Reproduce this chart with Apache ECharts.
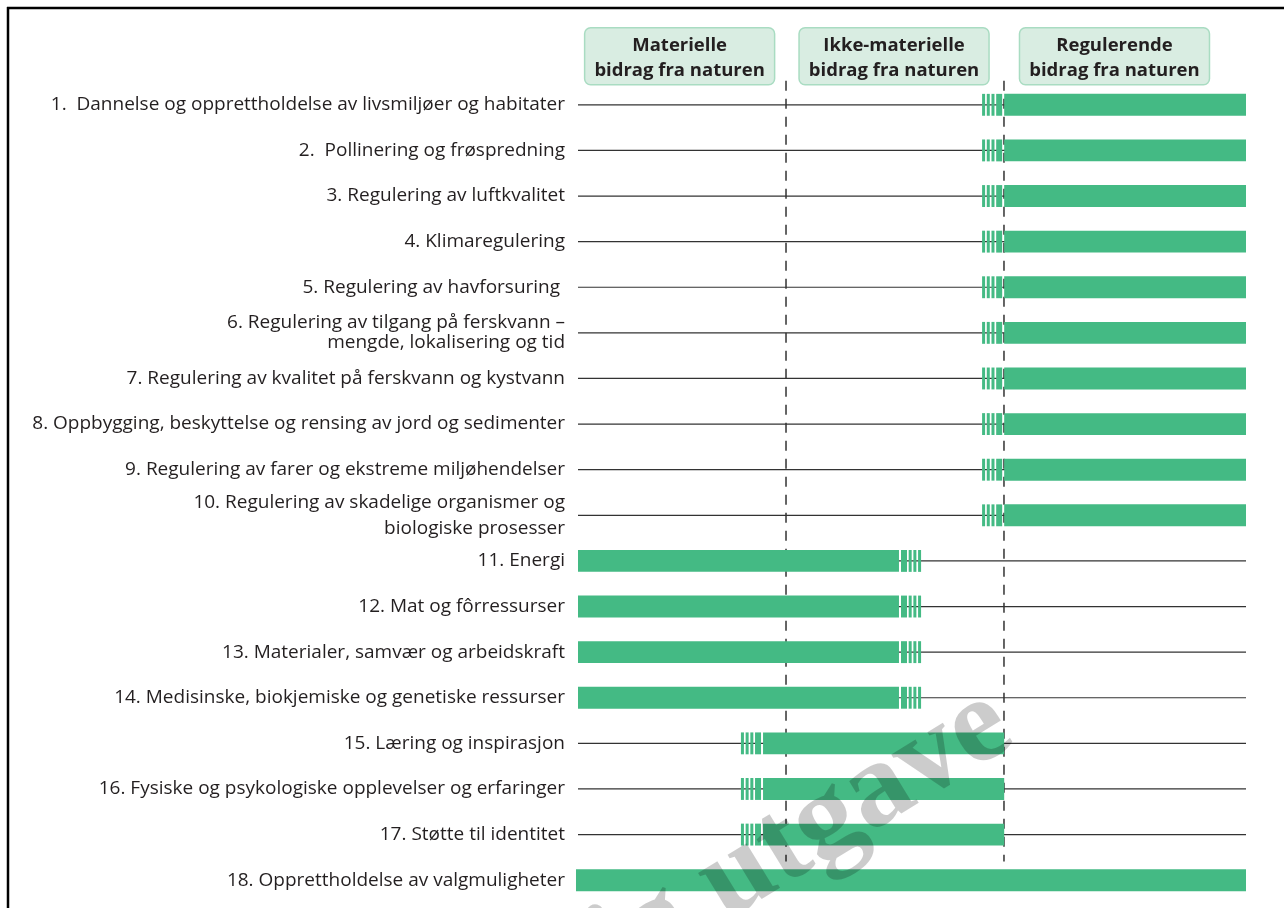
<!DOCTYPE html>
<html>
<head>
<meta charset="utf-8">
<script src="https://cdn.jsdelivr.net/npm/echarts@6/dist/echarts.min.js"></script>
<style>
  html, body { margin: 0; padding: 0; background: #fff; }
  #chart { width: 1284px; height: 908px; }
</style>
</head>
<body>
<div id="chart"></div>
<script>
  // rows, top to bottom
  const categories = [
    '1.  Dannelse og opprettholdelse av livsmiljøer og habitater',
    '2.  Pollinering og frøspredning',
    '3. Regulering av luftkvalitet',
    '4. Klimaregulering',
    '5. Regulering av havforsuring ',
    '6. Regulering av tilgang på ferskvann –\nmengde, lokalisering og tid',
    '7. Regulering av kvalitet på ferskvann og kystvann',
    '8. Oppbygging, beskyttelse og rensing av jord og sedimenter',
    '9. Regulering av farer og ekstreme miljøhendelser',
    '10. Regulering av skadelige organismer og\nbiologiske prosesser',
    '11. Energi',
    '12. Mat og fôrressurser',
    '13. Materialer, samvær og arbeidskraft',
    '14. Medisinske, biokjemiske og genetiske ressurser',
    '15. Læring og inspirasjon',
    '16. Fysiske og psykologiske opplevelser og erfaringer',
    '17. Støtte til identitet',
    '18. Opprettholdelse av valgmuligheter'
  ];
  // solid part of each bar (0-100 scale across the three groups)
  const solidStart = [63.8, 63.8, 63.8, 63.8, 63.8, 63.8, 63.8, 63.8, 63.8, 63.8,
                      0, 0, 0, 0, 27.7, 27.7, 27.7, -0.3];
  const solidEnd   = [100, 100, 100, 100, 100, 100, 100, 100, 100, 100,
                      48.05, 48.05, 48.05, 48.05, 63.8, 63.8, 63.8, 100];
  // which end fades out in stripes
  const fadeSide = ['left', 'left', 'left', 'left', 'left', 'left', 'left', 'left', 'left', 'left',
                    'right', 'right', 'right', 'right', 'left', 'left', 'left', 'none'];
  // group borders (dashed) and group headers
  const dividers = [31.14, 63.77];
  const groupNames = ['Materielle\nbidrag fra naturen', 'Ikke-materielle\nbidrag fra naturen', 'Regulerende\nbidrag fra naturen'];
  const groupCentres = [15.1, 47.2, 80.2];

  const GREEN = '#44ba84';
  const INK = '#231f20';

  const chart = echarts.init(document.getElementById('chart'));

  function renderRow(params, api) {
    const i = params.dataIndex;
    const y = api.coord([0, i])[1];
    const h = api.size([0, 1])[1] * 0.48;
    const x0 = api.coord([0, i])[0];
    const x1 = api.coord([100, i])[0];
    const s0 = api.coord([api.value(0), i])[0];
    const s1 = api.coord([api.value(1), i])[0];
    const children = [{
      type: 'line',
      shape: { x1: x0, y1: y, x2: x1, y2: y },
      style: { stroke: '#333', lineWidth: 1.2 }
    }];
    // stripes fading the bar out
    const widths = [3, 3, 3, 6];
    const gap = 1.7;
    if (fadeSide[i] === 'left') {
      let x = s0 - 2;
      for (let k = widths.length - 1; k >= 0; k--) {
        x -= widths[k];
        children.push({ type: 'rect', shape: { x: x, y: y - h / 2, width: widths[k], height: h }, style: { fill: GREEN } });
        x -= gap;
      }
    } else if (fadeSide[i] === 'right') {
      let x = s1 + 2;
      for (let k = widths.length - 1; k >= 0; k--) {
        children.push({ type: 'rect', shape: { x: x, y: y - h / 2, width: widths[k], height: h }, style: { fill: GREEN } });
        x += widths[k] + gap;
      }
    }
    children.push({
      type: 'rect',
      shape: { x: s0, y: y - h / 2, width: s1 - s0, height: h },
      style: { fill: GREEN }
    });
    return { type: 'group', children: children };
  }

  function renderDivider(params, api) {
    const x = api.coord([api.value(0), 0])[0];
    const top = api.coord([0, 0])[1] - 24;
    const bottom = api.coord([0, categories.length - 2])[1] + 27;
    return {
      type: 'line',
      shape: { x1: x, y1: top, x2: x, y2: bottom },
      style: { stroke: '#333', lineWidth: 1.5, lineDash: [10, 8] }
    };
  }

  const option = {
    backgroundColor: '#fff',
    animation: false,
    grid: { left: 578, right: 38, top: 82, bottom: 5 },
    xAxis: { type: 'value', min: 0, max: 100, show: false },
    yAxis: {
      type: 'category',
      inverse: true,
      data: categories.map((c, i) => i === 9 ? { value: c, textStyle: { lineHeight: 26 } } : c),
      axisLine: { show: false },
      axisTick: { show: false },
      splitLine: { show: false },
      axisLabel: {
        margin: 13,
        color: INK,
        fontSize: 19,
        fontFamily: 'Open Sans',
        lineHeight: 20,
        align: 'right'
      }
    },
    series: [{
      type: 'custom',
      z: 1,
      renderItem: renderDivider,
      data: dividers.map(v => [v])
    }, {
      type: 'custom',
      z: 2,
      renderItem: renderRow,
      encode: { x: [0, 1] },
      data: categories.map((c, i) => [solidStart[i], solidEnd[i]])
    }]
  };
  chart.setOption(option);

  // header boxes and frame, placed from the axis
  const graphics = groupNames.map((name, k) => {
    const cx = chart.convertToPixel({ gridIndex: 0 }, [groupCentres[k], 0])[0];
    return {
      type: 'group',
      left: cx - 95,
      top: 27,
      children: [{
        type: 'rect',
        shape: { x: 0, y: 0, width: 190, height: 57, r: 6 },
        style: { fill: '#d9ede2', stroke: '#a9dcc2', lineWidth: 1.5 }
      }, {
        type: 'text',
        x: 95,
        y: 30,
        style: {
          text: name,
          fill: INK,
          font: 'bold 18.5px "Open Sans"',
          align: 'center',
          verticalAlign: 'middle',
          lineHeight: 25
        }
      }]
    };
  });
  graphics.push({
    type: 'line',
    shape: { x1: 7, y1: 8, x2: 1284, y2: 8 },
    style: { stroke: '#000', lineWidth: 2.5 },
    z: 10
  }, {
    type: 'line',
    shape: { x1: 8, y1: 7, x2: 8, y2: 908 },
    style: { stroke: '#000', lineWidth: 2.5 },
    z: 10
  }, {
    type: 'text',
    x: 1033,
    y: 767,
    rotation: 0.55,
    z: 100,
    style: {
      text: 'Foreløpig utgave',
      font: 'bold 121px "Liberation Serif"',
      fill: 'rgba(0,0,0,0.2)',
      align: 'right',
      verticalAlign: 'bottom'
    }
  });
  chart.setOption({ graphic: graphics });
</script>
</body>
</html>
